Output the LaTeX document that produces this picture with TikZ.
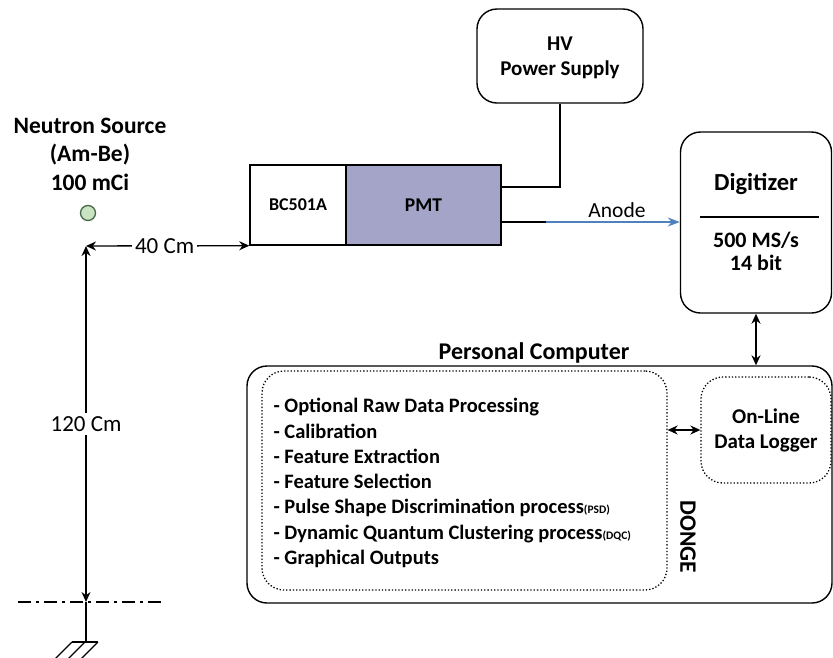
\documentclass[tikz,border=0pt]{standalone}
\usepackage{fontspec}
\setmainfont{Carlito}
\usetikzlibrary{arrows.meta}

\definecolor{pmtfill}{HTML}{A4A4C8}
\definecolor{srcfill}{HTML}{C8E4C2}
\definecolor{srcedge}{HTML}{4A6A4A}
\definecolor{anodeblue}{HTML}{4F81BD}

\tikzset{
  wire/.style={line width=1.4pt, draw=black},
  box/.style={draw, line width=1.4pt, inner sep=0pt},
  rbox/.style={box, rounded corners=20pt},
  dotbox/.style={draw, line width=1.3pt, dotted, rounded corners=22pt, inner sep=0pt},
  tip/.style={-{Stealth[length=10pt,width=9pt]}},
  dtip/.style={{Stealth[length=10pt,width=9pt]}-{Stealth[length=10pt,width=9pt]}},
  bigb/.style={font=\bfseries\fontsize{23.5}{28.5}\selectfont, align=center},
  midb/.style={font=\bfseries\fontsize{21}{25}\selectfont, align=center},
  itemb/.style={font=\bfseries\fontsize{20.5}{25.3}\selectfont, align=left},
  plain/.style={font=\fontsize{23}{26}\selectfont},
}

\begin{document}
\begin{tikzpicture}[x=1pt, y=-1pt]
\useasboundingbox (0,0) rectangle (833,657);

% neutron source
\node[bigb] (srctxt) at (90,154) {Neutron Source\\(Am-Be)\\100 mCi};
\node[circle, draw=srcedge, fill=srcfill, line width=1.3pt, minimum size=15pt, inner sep=0pt] (src) at (88,213) {};

% detector: scintillator + photomultiplier
\node[box, minimum width=96pt, minimum height=80pt, font=\bfseries\fontsize{18}{20}\selectfont] (bc) at (298,205) {BC501A};
\node[box, fill=pmtfill, minimum width=155pt, minimum height=80pt, font=\bfseries\fontsize{19.5}{22}\selectfont] (pmt) at (423.5,205) {PMT};

% high voltage supply
\node[rbox, minimum width=166pt, minimum height=94pt, midb] (hv) at (560,56) {};
\node[midb] (hvtext) at (560,58) {HV\\Power Supply};

% digitizer
\node[rbox, minimum width=151pt, minimum height=181pt] (dig) at (756,222.5) {};
\node[bigb, font=\bfseries\fontsize{24.5}{28}\selectfont] (digname) at (756,184) {Digitizer};
\coordinate (sepL) at (700,217);
\coordinate (sepR) at (819,217);
\draw[wire] (sepL) -- (sepR);
\node[midb, font=\bfseries\fontsize{22}{23}\selectfont] (digspec) at (756,251) {500 MS/s\\14 bit};

% personal computer
\node[rbox, minimum width=585pt, minimum height=237pt] (pc) at (539.5,484.5) {};
\node[bigb, font=\bfseries\fontsize{24}{28}\selectfont] (pctitle) at (534,353) {Personal Computer};
\node[dotbox, minimum width=405pt, minimum height=219pt] (proc) at (464.5,480.5) {};
\node[itemb, anchor=west] (items) at (270,483) {%
- Optional Raw Data Processing\\
- Calibration\\
- Feature Extraction\\
- Feature Selection\\
- Pulse Shape Discrimination process{\fontsize{11.5}{14}\selectfont(PSD)}\\
- Dynamic Quantum Clustering process{\fontsize{11.5}{14}\selectfont(DQC)}\\
- Graphical Outputs};
\node[font=\bfseries\fontsize{23.5}{24}\selectfont, rotate=-90] (donge) at (688,537) {DONGE};
\node[dotbox, minimum width=130pt, minimum height=106pt, midb] (logger) at (766,430) {On-Line\\Data Logger};

% connections
\coordinate (hvin) at ([yshift=18pt]pmt.east);
\draw[wire] (hv.south) |- (hvin);

\coordinate (anodeout) at ([yshift=-17pt]pmt.east);
\coordinate (anodemid) at ([xshift=44pt]anodeout);
\draw[wire] (anodeout) -- (anodemid);
\draw[line width=1.3pt, draw=anodeblue, -{Stealth[length=12pt,width=9pt]}, anodeblue] (anodemid) -- (anodeout -| dig.west);
\node[plain, font=\fontsize{21.5}{24}\selectfont] (anode) at (617,210) {Anode};

\draw[wire, dtip] (dig.south) -- (dig.south |- pc.north);
\draw[wire, dtip] (logger.west -| proc.east) -- (logger.west);

% distance markings
\coordinate (corner) at (86,246);
\coordinate (datum) at (86,602);
\draw[wire, dtip] (corner) -- node[plain, fill=white, inner xsep=3pt, xshift=-3pt] (d40) {40 Cm} (bc.south west);
\draw[wire, dtip] (corner) -- node[plain, fill=white, inner sep=3pt] (d120) {120 Cm} (datum);

% reference plane and ground
\coordinate (planeL) at (18,602);
\coordinate (planeR) at (163,602);
\draw[line width=1.4pt, dash pattern=on 13pt off 5pt on 3pt off 5pt] (planeL) -- (planeR);
\coordinate (gnd) at (86,642);
\draw[wire] (datum) -- (gnd);
\draw[line width=1.2pt] (72,642) -- (98,642);
\foreach \x in {72,85,98} \draw[line width=1.2pt] (\x,642) -- ++(-17,17);
\end{tikzpicture}
\end{document}
